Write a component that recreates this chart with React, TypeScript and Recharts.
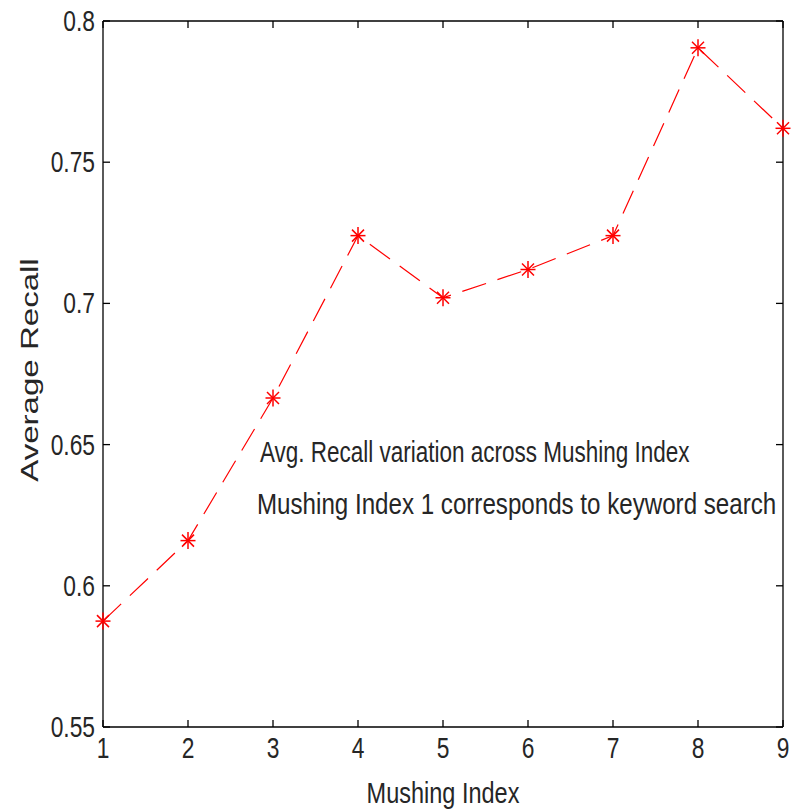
import React from "react";
import { LineChart, Line, XAxis, YAxis, Customized } from "recharts";

const mushingIndex = [1, 2, 3, 4, 5, 6, 7, 8, 9];
const avgRecall = [0.5875, 0.616, 0.6665, 0.724, 0.702, 0.712, 0.724, 0.7905, 0.762];
const xTicks = [1, 2, 3, 4, 5, 6, 7, 8, 9];
const yTicks = [0.55, 0.6, 0.65, 0.7, 0.75, 0.8];
const yTickLabels = ["0.55", "0.6", "0.65", "0.7", "0.75", "0.8"];
const annotationLines = [
  "Avg. Recall variation across Mushing Index",
  "Mushing Index 1 corresponds to keyword search",
];
const xLabel = "Mushing Index";
const yLabel = "Average Recall";

const data = mushingIndex.map((m, i) => ({ x: m, y: avgRecall[i] }));

const FONT = "'Liberation Sans', Arial, Helvetica, sans-serif";
const FS = 30;
const SX = 0.76;
const TXT = "#262626";
const AX = { stroke: "#000", strokeWidth: 1.3 };

const BottomTick = (p: any) => {
  const { x, y, payload } = p;
  return (
    <text
      transform={`translate(${x},${y}) scale(${SX},1)`}
      y={23}
      textAnchor="middle"
      fontFamily={FONT}
      fontSize={FS}
      fill={TXT}
    >
      {payload.value}
    </text>
  );
};
const LeftTick = (p: any) => {
  const { x, y, payload } = p;
  const idx = yTicks.findIndex((t) => Math.abs(t - payload.value) < 1e-9);
  return (
    <text
      transform={`translate(${x},${y}) scale(${SX},1)`}
      y={10}
      textAnchor="end"
      fontFamily={FONT}
      fontSize={FS}
      fill={TXT}
    >
      {idx >= 0 ? yTickLabels[idx] : payload.value}
    </text>
  );
};
const NoTick = () => <g />;

const Asterisk = (p: any) => {
  const { cx, cy } = p;
  if (cx == null || cy == null) return null;
  const rx = 7.5;
  const ry = 8.5;
  const d = 6;
  return (
    <g stroke="#ff0000" strokeWidth={1.5}>
      <line x1={cx - rx} y1={cy} x2={cx + rx} y2={cy} />
      <line x1={cx} y1={cy - ry} x2={cx} y2={cy + ry} />
      <line x1={cx - d} y1={cy - d} x2={cx + d} y2={cy + d} />
      <line x1={cx - d} y1={cy + d} x2={cx + d} y2={cy - d} />
    </g>
  );
};

const Annotations = () => (
  <g fontFamily={FONT} fontSize={FS} fill={TXT}>
    <text transform="translate(260,462) scale(0.75,1)">{annotationLines[0]}</text>
    <text transform="translate(257,514) scale(0.805,1)">{annotationLines[1]}</text>
    <text transform="translate(443,803) scale(0.784,1)" textAnchor="middle">
      {xLabel}
    </text>
    <text transform={`translate(38,370) rotate(-90) scale(1.066,${SX})`} textAnchor="middle" fontSize={31}>
      {yLabel}
    </text>
  </g>
);

export default function App() {
  return (
    <div style={{ position: "absolute", left: 0, top: 0, width: 798, height: 810, background: "#fff" }}>
      <LineChart width={798} height={810} data={data} margin={{ top: 20, right: 14, bottom: 0, left: 0 }}>
        <XAxis
          xAxisId="bottom"
          dataKey="x"
          type="number"
          domain={[1, 9]}
          ticks={xTicks}
          orientation="bottom"
          height={83}
          tickSize={-7}
          tickMargin={15}
          tickLine={AX}
          axisLine={AX}
          tick={<BottomTick />}
          interval={0}
        />
        <XAxis
          xAxisId="top"
          dataKey="x"
          type="number"
          domain={[1, 9]}
          ticks={xTicks}
          orientation="top"
          height={1}
          tickSize={-7}
          tickMargin={0}
          tickLine={AX}
          axisLine={AX}
          tick={<NoTick />}
          interval={0}
        />
        <YAxis
          yAxisId="left"
          type="number"
          domain={[0.55, 0.8]}
          ticks={yTicks}
          orientation="left"
          width={103}
          tickSize={-7}
          tickMargin={15}
          tickLine={AX}
          axisLine={AX}
          tick={<LeftTick />}
          interval={0}
          allowDataOverflow
        />
        <YAxis
          yAxisId="right"
          type="number"
          domain={[0.55, 0.8]}
          ticks={yTicks}
          orientation="right"
          width={1}
          tickSize={-7}
          tickMargin={0}
          tickLine={AX}
          axisLine={AX}
          tick={<NoTick />}
          interval={0}
          allowDataOverflow
        />
        <Line
          xAxisId="top"
          yAxisId="right"
          dataKey="y"
          stroke="none"
          dot={false}
          activeDot={false}
          isAnimationActive={false}
        />
        <Line
          xAxisId="bottom"
          yAxisId="left"
          type="linear"
          dataKey="y"
          stroke="#ff0000"
          strokeWidth={1.2}
          strokeDasharray="25 12"
          dot={<Asterisk />}
          activeDot={false}
          isAnimationActive={false}
        />
        <Customized component={Annotations} />
      </LineChart>
    </div>
  );
}
